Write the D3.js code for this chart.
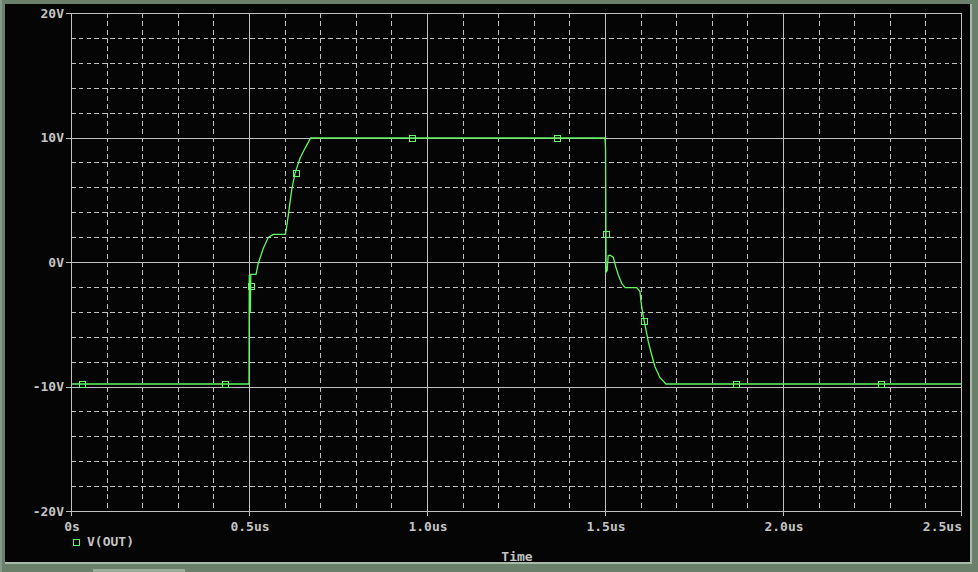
<!DOCTYPE html>
<html>
<head>
<meta charset="utf-8">
<script src="https://cdn.jsdelivr.net/npm/d3@7"></script>
<style>
  html, body { margin: 0; padding: 0; background: #6b806b; }
  svg { display: block; }
</style>
</head>
<body>
<svg id="chart" width="978" height="572"></svg>
<script>
// ---- data ----
const timeUs = [0, 0.5, 0.5008, 0.5037, 0.5051, 0.5093, 0.5197, 0.5261, 0.5402, 0.5542,
  0.5683, 0.6020, 0.6059, 0.6124, 0.6199, 0.6292, 0.6433, 0.6573, 0.6733, 1.5,
  1.5015, 1.5030, 1.5060, 1.5090, 1.514, 1.5233, 1.5301, 1.5374, 1.5469, 1.5562,
  1.589, 1.5983, 1.6011, 1.6059, 1.6143, 1.6216, 1.6312, 1.6404, 1.6545, 1.6713, 2.5];
const vOut = [-9.8, -9.8, -1.04, -4.1, -1.0, -1.0, -1.0, -0.1, 1.1, 1.98,
  2.22, 2.22, 2.83, 4.18, 5.78, 7.12, 8.33, 9.13, 9.96, 9.96,
  9.1, -0.8, -0.7, 0.5, 0.55, 0.38, -0.37, -1.04, -1.71, -2.06,
  -2.06, -2.38, -3.19, -4.12, -5.33, -6.4, -7.47, -8.41, -9.29, -9.8, -9.8];
const markerTime = [0.031, 0.4326, 0.5056, 0.632, 0.958, 1.365, 1.503, 1.6096, 1.868, 2.275];
const markerV = [-9.8, -9.8, -1.93, 7.15, 9.96, 9.96, 2.25, -4.74, -9.8, -9.8];
const xTickValues = [0, 0.5, 1.0, 1.5, 2.0, 2.5];
const xTickLabels = ["0s", "0.5us", "1.0us", "1.5us", "2.0us", "2.5us"];
const yTickValues = [20, 10, 0, -10, -20];
const yTickLabels = ["20V", "10V", "0V", "-10V", "-20V"];
const xMinorStep = 0.1;
const yMinorStep = 2;
const seriesName = "V(OUT)";
const xTitle = "Time";

// ---- styles ----
const GRID = "#c0c0c0";
const TEXT = "#c4c4c4";
const TRACE = "#62f862";
const FONT = "'DejaVu Sans Mono', 'Liberation Mono', monospace";

const svg = d3.select("#chart");

// window frame
svg.append("rect").attr("x", 0).attr("y", 0).attr("width", 978).attr("height", 572).attr("fill", "#6b806b");
svg.append("rect").attr("x", 0).attr("y", 0).attr("width", 2).attr("height", 572).attr("fill", "#86998a");
svg.append("rect").attr("x", 5).attr("y", 4).attr("width", 967).attr("height", 560).attr("fill", "#a9bba9");
svg.append("rect").attr("x", 5).attr("y", 4).attr("width", 965).attr("height", 558).attr("fill", "#050505");
svg.append("rect").attr("x", 93).attr("y", 569).attr("width", 92).attr("height", 3).attr("fill", "#9aac9a");

const x = d3.scaleLinear().domain([0, 2.5]).range([71, 961]);
const y = d3.scaleLinear().domain([-20, 20]).range([511, 13]);

const g = svg.append("g").attr("shape-rendering", "crispEdges");

// minor dashed grid
const xMinor = d3.range(0, 2.5 + 1e-9, xMinorStep).filter(v => Math.abs(v / 0.5 - Math.round(v / 0.5)) > 1e-6);
const yMinor = d3.range(-20, 20 + 1e-9, yMinorStep).filter(v => v % 10 !== 0);
g.selectAll("line.xminor").data(xMinor).enter().append("line")
  .attr("x1", d => Math.round(x(d)) + 0.5).attr("x2", d => Math.round(x(d)) + 0.5)
  .attr("y1", y(20)).attr("y2", y(-20))
  .attr("stroke", GRID).attr("stroke-width", 1).attr("stroke-dasharray", "5,3.3");
g.selectAll("line.yminor").data(yMinor).enter().append("line")
  .attr("x1", x(0)).attr("x2", x(2.5))
  .attr("y1", d => Math.round(y(d)) + 0.5).attr("y2", d => Math.round(y(d)) + 0.5)
  .attr("stroke", GRID).attr("stroke-width", 1).attr("stroke-dasharray", "4.5,3.3");

// major solid grid (incl. frame)
g.selectAll("line.xmajor").data(xTickValues).enter().append("line")
  .attr("x1", d => Math.round(x(d)) + 0.5).attr("x2", d => Math.round(x(d)) + 0.5)
  .attr("y1", y(20)).attr("y2", y(-20) + 5)
  .attr("stroke", GRID).attr("stroke-width", 1);
g.selectAll("line.ymajor").data(yTickValues).enter().append("line")
  .attr("x1", x(0) - 5).attr("x2", x(2.5) + 1)
  .attr("y1", d => Math.round(y(d)) + 0.5).attr("y2", d => Math.round(y(d)) + 0.5)
  .attr("stroke", GRID).attr("stroke-width", 1);

// axis labels
svg.selectAll("text.ylab").data(yTickValues).enter().append("text")
  .attr("x", 64).attr("y", d => y(d) + 4.5)
  .attr("text-anchor", "end")
  .attr("font-family", FONT).attr("font-size", 13).attr("font-weight", "bold")
  .attr("fill", TEXT)
  .text((d, i) => yTickLabels[i]);
svg.selectAll("text.xlab").data(xTickValues).enter().append("text")
  .attr("x", d => x(d) + 1)
  .attr("y", 531)
  .attr("text-anchor", (d, i) => i === xTickValues.length - 1 ? "end" : "middle")
  .attr("font-family", FONT).attr("font-size", 13).attr("font-weight", "bold")
  .attr("fill", TEXT)
  .text((d, i) => xTickLabels[i]);

// x title
svg.append("text").attr("x", (x(0) + x(2.5)) / 2 + 1).attr("y", 561)
  .attr("text-anchor", "middle")
  .attr("font-family", FONT).attr("font-size", 13).attr("font-weight", "bold")
  .attr("fill", TEXT).text(xTitle);

// legend
svg.append("rect").attr("x", 73.5).attr("y", 539.5).attr("width", 6).attr("height", 6)
  .attr("fill", "none").attr("stroke", TRACE).attr("stroke-width", 1)
  .attr("shape-rendering", "crispEdges");
svg.append("text").attr("x", 87).attr("y", 546)
  .attr("font-family", FONT).attr("font-size", 13).attr("font-weight", "bold")
  .attr("fill", TEXT).text(seriesName);

// trace
const pts = timeUs.map((t, i) => [t, vOut[i]]);
const line = d3.line().x(d => x(d[0])).y(d => y(d[1]));
svg.append("path").datum(pts)
  .attr("d", line)
  .attr("fill", "none").attr("stroke", TRACE).attr("stroke-width", 1.3);

// markers
const mk = markerTime.map((t, i) => [t, markerV[i]]);
svg.selectAll("rect.mk").data(mk).enter().append("rect")
  .attr("x", d => Math.round(x(d[0])) - 3 + 0.5)
  .attr("y", d => Math.round(y(d[1])) - 3 + 0.5)
  .attr("width", 6).attr("height", 6)
  .attr("fill", "none").attr("stroke", TRACE).attr("stroke-width", 1)
  .attr("shape-rendering", "crispEdges");
</script>
</body>
</html>
